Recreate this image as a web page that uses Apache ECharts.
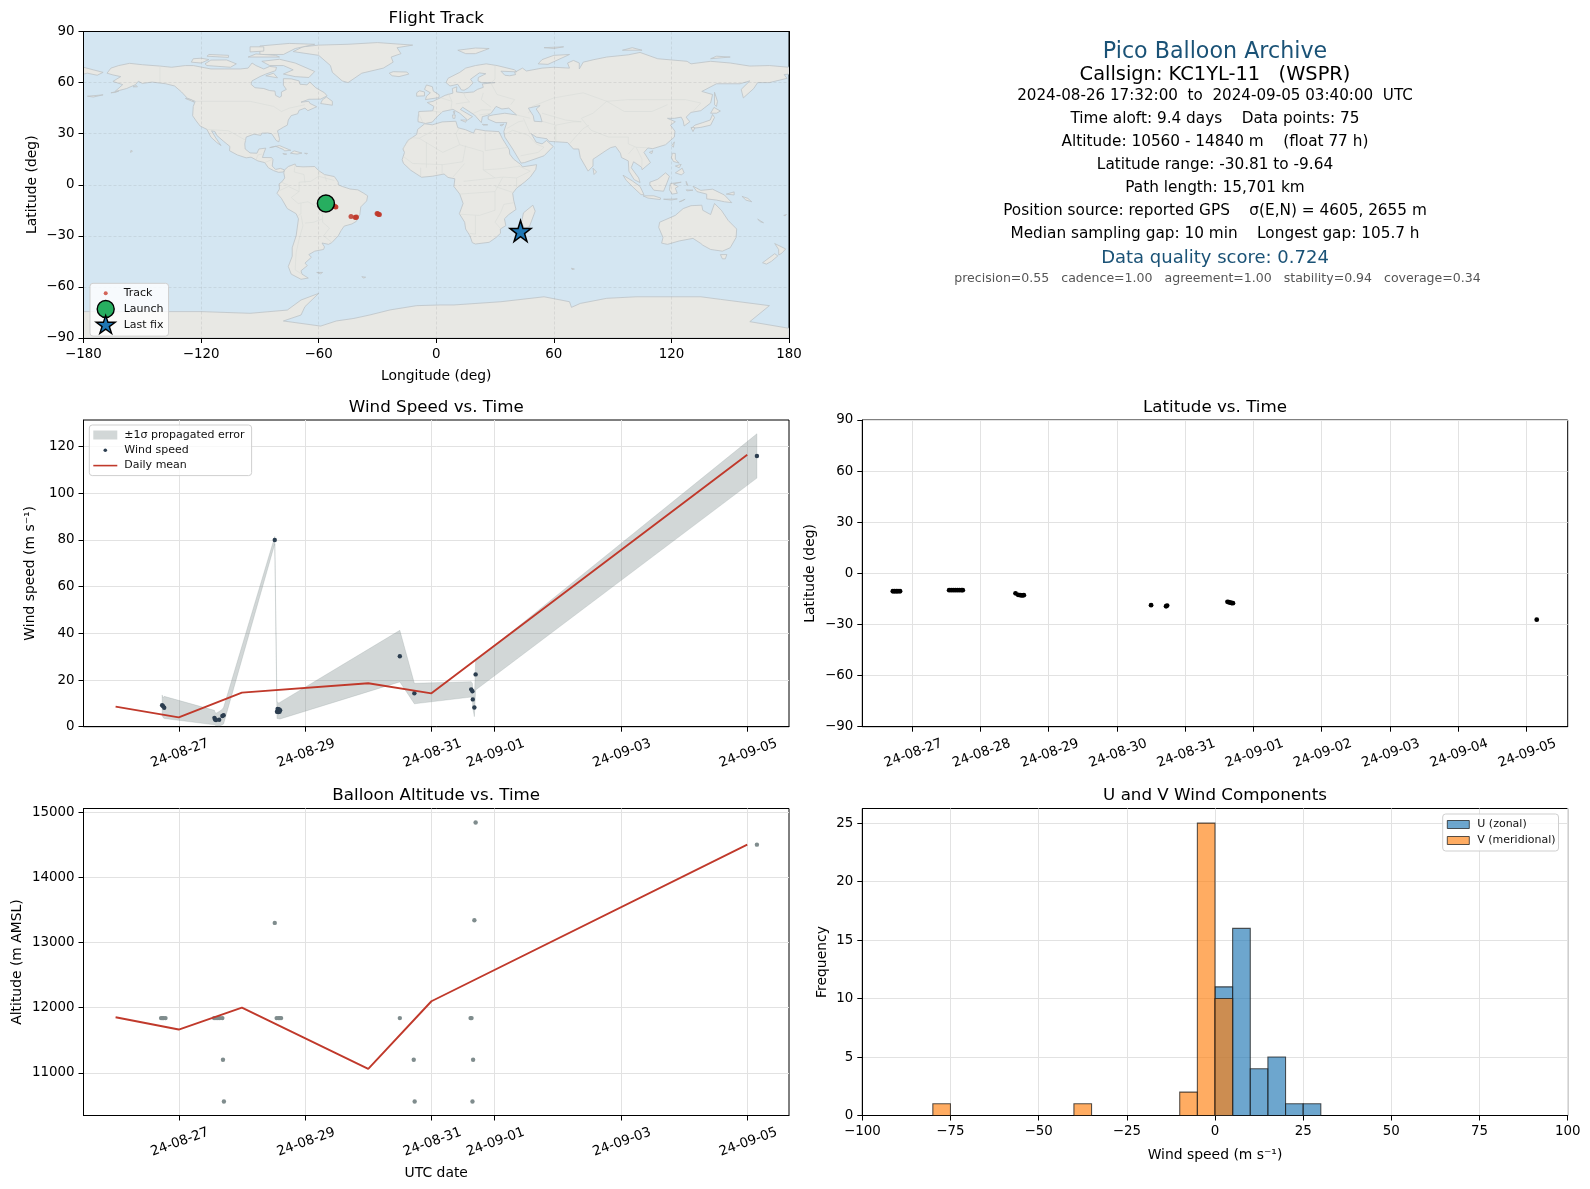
<!DOCTYPE html>
<html><head><meta charset="utf-8">
<style>html,body{margin:0;padding:0;background:#fff}#c{width:1590px;height:1189px}</style>
<script src="https://cdn.jsdelivr.net/npm/echarts@6/dist/echarts.min.js"></script>
</head><body><div id="c"></div>
<script>
// ---------- values (time = days since 2024-08-27 00:00 UTC) ----------
const trackLon = [-56.3,-55.9,-55.6,-54.6,-54.2,-53.8,-53.4,-52.8,-51.9,-51.5,-51.2,-43.5,-41.4,-41,-40.7,-30.2,-29.8,-29.4,-29,43];
const trackLat = [-10.5,-10.5,-10.4,-9.9,-9.9,-9.9,-9.9,-11.7,-12.7,-12.9,-13,-18.7,-19.1,-19.2,-19,-16.9,-17.1,-17.4,-17.5,-27.2];
const launchPoint = [-56.3,-11];
const lastFixPoint = [43,-27.2];

const latTime = [-0.285,-0.26,-0.235,-0.21,-0.18,0.54,0.57,0.6,0.63,0.66,0.69,0.72,0.74,1.513,1.55,1.58,1.6,1.62,1.635,3.5,3.72,3.735,4.62,4.64,4.66,4.68,4.7,9.153];
const latValue = [-10.5,-10.5,-10.5,-10.5,-10.5,-9.9,-9.9,-9.9,-9.9,-9.9,-9.9,-9.9,-9.9,-11.7,-12.6,-12.8,-12.9,-12.9,-12.8,-18.7,-19.3,-18.9,-16.7,-16.9,-17.2,-17.4,-17.5,-27.2];

const windTime = [-0.263,-0.247,-0.23,0.565,0.575,0.59,0.64,0.69,0.71,1.52,1.555,1.565,1.575,1.585,1.595,1.605,3.5,3.73,4.63,4.65,4.655,4.68,4.7,9.153];
const windSpeed = [9.2,8.8,8.1,3.8,3.1,2.9,3,4.6,4.9,80,6.4,7.6,6.3,7.5,6.4,7.1,30.2,14.3,16,15.2,11.7,8.2,22.4,116];
const windHigh = [13.6,12.4,13,7,6.2,5.8,6.5,7.5,8.3,81.5,10.5,10.5,10.3,10.2,10.3,10.5,41.3,18.6,19.3,18.5,15,12,28.2,125.5];
const windLow = [4.8,3.9,3.5,0.8,0.6,0.5,0.2,0.8,1.2,78.3,3.5,3.5,3.4,3.4,3.3,3.3,19.2,9.8,12.7,11.5,8,4.3,15.7,106.5];

const dailyTime = [-1,0,1,3,4,9];
const dailyWind = [8.6,4,14.6,18.6,14.3,116.5];
const dailyAlt = [11853,11664,12001,11061,12098,14500];

const altTime = [-0.28,-0.26,-0.24,-0.21,0.56,0.59,0.62,0.65,0.69,0.7,0.715,1.52,1.55,1.58,1.6,1.62,3.5,3.72,3.735,4.62,4.635,4.66,4.65,4.68,4.7,9.153];
const altValue = [11840,11840,11840,11840,11840,11840,11840,11840,11840,11200,10560,13300,11840,11840,11840,11840,11840,11200,10560,11840,11840,11200,10560,13340,14840,14500];

const histEdgesU = [[0,5],[5,10],[10,15],[15,20],[20,25],[25,30]];
const histCountU = [11,16,4,5,1,1];
const histEdgesV = [[-80,-75],[-40,-35],[-10,-5],[-5,0],[0,5]];
const histCountV = [1,1,2,25,10];

const dateTickDays = [0,1,2,3,4,5,6,7,8,9];
const dateTickLabels = ['24-08-27','24-08-28','24-08-29','24-08-30','24-08-31','24-09-01','24-09-02','24-09-03','24-09-04','24-09-05'];
const sparseTickDays = [0,2,4,5,7,9];
const windTicks = [0,20,40,60,80,100,120];
const altTicks = [11000,12000,13000,14000,15000];
const freqTicks = [0,5,10,15,20,25];

const infoLines = [
 'Pico Balloon Archive','Callsign: KC1YL-11   (WSPR)','2024-08-26 17:32:00  to  2024-09-05 03:40:00  UTC',
 'Time aloft: 9.4 days    Data points: 75','Altitude: 10560 - 14840 m    (float 77 h)','Latitude range: -30.81 to -9.64',
 'Path length: 15,701 km','Position source: reported GPS    σ(E,N) = 4605, 2655 m','Median sampling gap: 10 min    Longest gap: 105.7 h',
 'Data quality score: 0.724','precision=0.55   cadence=1.00   agreement=1.00   stability=0.94   coverage=0.34'];

// coastlines, [lon,lat]
const landNorthAmerica=[[-168,65.5],[-166,68.5],[-162,70],[-156.5,71.3],[-150,70.5],[-141,69.7],[-135,69],[-128,70],[-124,70],[-115,68],[-108,68],[-100,68],[-96,68.5],[-94,71.5],[-92,70],[-88,68],[-85,69.5],[-81.5,69],[-82,67],[-87,65],[-90,63.5],[-94,61],[-94.5,59],[-92.5,57],[-88,56.5],[-85,55.3],[-82.3,55],[-82,52.5],[-80,51.3],[-79,52],[-79,54.5],[-76.5,56],[-78,58.5],[-78,62.3],[-74,62.2],[-70,61],[-69.5,59],[-66,58.7],[-64.5,60.3],[-61.5,57],[-57,54],[-55.7,52.2],[-59,50.3],[-65,50.2],[-69,48.5],[-65,49],[-64.5,47.8],[-61,45.8],[-65.5,43.5],[-67,45],[-70,43.7],[-70.7,41.7],[-74,40.6],[-75.5,38],[-76,35],[-78,33.8],[-81,31.7],[-80,27],[-80.3,25.2],[-81.7,26],[-82.8,28],[-84,30],[-86,30.4],[-89,30.3],[-89.5,29],[-93,29.7],[-97,28],[-97.7,24],[-97.5,21],[-95,18.7],[-91.5,18.5],[-90.5,21],[-87,21.5],[-88,18.5],[-88.7,16],[-84,15.9],[-83.3,14.8],[-83.7,11],[-82,9],[-79.5,9.6],[-77.4,8.7],[-78,7.5],[-80.5,7.3],[-83,8.3],[-85.7,10],[-87.5,13],[-91,14],[-94.5,16.2],[-97,15.8],[-101.5,17.5],[-105.5,20],[-105.3,22.5],[-108.5,25.5],[-112,29],[-113,31.3],[-114.7,31.7],[-112.5,27.5],[-109.8,23],[-112,24.8],[-115,28],[-117,32.5],[-120.5,34.5],[-122.5,37.5],[-124.3,40.5],[-124,46],[-123,49],[-127,50.8],[-130,54.5],[-133.5,58],[-138,59.3],[-145,60.3],[-150,59.5],[-152,60.8],[-153.5,58.8],[-158,56.5],[-164,54.7],[-160,58.8],[-165,60.7],[-161,63.5],[-165,64.5]];
const landSouthAmerica=[[-77.4,8.7],[-75.5,10.7],[-72,12.2],[-71.5,10.8],[-68,10.5],[-62,10.7],[-60,8.3],[-57,6],[-52,4.8],[-50,1.5],[-50,0],[-48,-1],[-44,-2.5],[-40,-3],[-37,-5],[-35,-6.5],[-35.5,-9.5],[-38.5,-13],[-39,-17.5],[-40.8,-21.5],[-43,-23],[-47,-24.3],[-48.6,-27],[-50,-30],[-53.3,-34],[-55,-35],[-58.3,-34.2],[-57,-36.5],[-57.5,-38],[-62,-39],[-65,-41],[-63.7,-42.6],[-67,-46],[-65.8,-47.5],[-69,-50.5],[-68.5,-52.5],[-65.3,-54.8],[-69,-55.5],[-74,-52.5],[-75.5,-48],[-73.5,-42],[-73.5,-37],[-71.5,-30],[-70.3,-20],[-71.5,-17],[-76,-14],[-79,-8],[-81.3,-5],[-80,-2.5],[-80.2,0.5],[-78.8,1.7],[-77.3,4],[-77.8,7]];
const landAfrica=[[-5.9,35.8],[-2,35.2],[3,36.9],[10,37.3],[11,33.5],[15,32.3],[19,30.3],[20,32.7],[25,31.7],[32,31.2],[32.5,30],[33.8,27],[35.7,23.5],[37.3,20.5],[37.5,18],[39.5,15],[43,12],[44,10.5],[51.2,11.8],[50.8,9],[48,4.5],[45,1.5],[41,-2],[39,-5],[39.5,-9],[40.7,-14.5],[37,-17.5],[34.8,-20],[35.5,-24],[32.7,-26],[32.8,-28.5],[30.5,-31],[27,-33.8],[20,-34.8],[18.4,-34],[17.2,-30],[15,-26],[14.5,-22],[11.8,-17],[13.7,-11],[12,-5.5],[9,-1],[9.5,3.5],[6,4.3],[4,6.3],[-2,5],[-7.5,4.4],[-13,8.5],[-16.7,12.5],[-17.4,14.7],[-16.2,19],[-17,21],[-14.5,26],[-10,29.5],[-9.5,32.5]];
const landEurasia=[[-9.3,38.7],[-8.9,43],[-1.8,43.4],[-1.2,46],[-4.6,48.3],[-1.6,49],[2,51],[4.5,52.5],[8.5,53.8],[8.2,56.5],[10.5,57.5],[10.3,54.5],[14,54],[19,54.5],[21,56],[24,57.2],[23.5,59.2],[30,60],[23,60],[21.3,61],[21.5,63],[25.3,65.2],[22,65.7],[17.5,62],[18.8,59.8],[16.5,57],[14.2,55.5],[12.8,55.7],[11,59],[7,58],[5,60],[6,62.5],[12,66],[15,68.5],[20,70],[25.5,71],[31,70],[40,67.5],[41,66.3],[33,66.7],[35,64.3],[37.5,64],[40.5,64.7],[40,66],[44,68.5],[46,66.8],[54,68.5],[60,69],[68,68.5],[67,71.5],[70,73],[73,71.5],[73,68],[75,72],[80.5,73.5],[87,75],[98,76.3],[104,77.7],[113,74],[128,72.5],[130,71],[140,72.5],[150,71.5],[160,69.7],[170,70],[180,69],[180,65],[177.5,64.7],[179,62.5],[170,60],[164,60],[162,56.5],[156.7,51],[155.6,56],[160,61],[155,59.3],[143,59.3],[135.5,54.8],[141,53],[140,48],[135,43.5],[130,42.5],[127.5,39.7],[129.4,37],[126.5,34.5],[126,37.5],[125,39.7],[121.5,39],[118,39],[122,37],[119.5,35],[121.8,31.5],[121.5,28],[117,23.5],[110.5,21.2],[108,21.6],[106,19],[109.3,13],[105,8.8],[104.8,10.3],[100.7,13.5],[99.5,10],[103.3,4],[104,1.3],[101,3],[98.3,8],[98,14],[94.5,16],[94,18.5],[91.5,22.5],[89,21.8],[86.5,20],[82,16.5],[80,15],[80,11],[77.5,8],[73.5,16],[72.7,21],[70,21],[67,24.8],[57.5,25.5],[56.5,27],[51,28],[48.5,30],[51,25],[54,24],[56.3,26],[59.7,22.5],[55,17],[45,13],[43.3,12.7],[39,21],[35,28],[34.5,31.3],[36,36.5],[30.5,36.5],[26.5,38.5],[26.5,40.3],[29,41],[35,42],[41,41],[37,45],[33.5,44.5],[30.5,46],[28,42],[26,40.7],[23.5,40],[23,36.5],[19.5,41],[13.5,45.5],[12.3,44.2],[18.5,40],[16,38],[12,42],[8.5,44.3],[3.3,43],[0,39.5],[-2,36.8],[-5.5,36],[-9.3,37]];
const landChukotka=[[-180,69],[-175,67.5],[-170,66],[-173,64.3],[-178,65.5],[-180,65]];
const landAustralia=[[114,-22],[122,-18],[126,-14],[130,-12.3],[135.5,-12],[136,-15],[140,-17.5],[142,-11],[145.5,-15],[149,-21],[153.3,-26],[153,-31],[150,-37],[146,-39],[140,-38],[136,-35.5],[135,-34.5],[131,-31.5],[124,-33],[118,-35],[115,-34.3],[115.7,-31],[113.5,-25]];
const landAntarctica=[[-180,-74.5],[-120,-74.5],[-95,-75.5],[-76,-73.6],[-69,-67.7],[-60,-63.8],[-67,-71.6],[-69,-76.5],[-78,-80],[-59,-83],[-51,-80],[-42,-78.5],[-34,-76.5],[-23.5,-73.5],[-10,-71],[2,-70.6],[9,-70.6],[33,-68.7],[55,-65.8],[68,-68.7],[69,-72],[73.5,-69.7],[87,-66.7],[102,-65.8],[135,-65.8],[145,-67.3],[170,-71],[160,-80.4],[180,-84.3],[180,-90],[-180,-90]];
const landGreenland=[[-73,78.2],[-68,81],[-60,82],[-45,82.5],[-30,83.5],[-12,82],[-20,80.5],[-18,77],[-23,75],[-22,72],[-27,68.5],[-38,65.5],[-45,60],[-48,61],[-53,66],[-54,70],[-60,76]];
const landIslands=[
 [[-80,73.7],[-72,71.5],[-67,69],[-62,66.5],[-65,63],[-72,63.5],[-78,65],[-73,67.5],[-78,70],[-85,70],[-89,72.5]],
 [[-117,70],[-105,69],[-102,71],[-107,73.3],[-115,73.2],[-118,71]],[[-125,72],[-120,71.5],[-116,73.5],[-120,74.3],[-124,74]],
 [[-90,76.5],[-78,76.5],[-72,80],[-62,82.5],[-75,83],[-90,81.5]],[[-96,75],[-80,75],[-82,76],[-92,76.8]],[[-117,75.5],[-106,74.8],[-106,76],[-116,76.5]],
 [[-95,78],[-88,78.5],[-88,81],[-95,81]],[[-59,47.7],[-53,46.7],[-53,49],[-56,51.5],[-58,50]],[[-87,64],[-81,62.8],[-83,65.5]],[[-128,50.7],[-123.5,48.5],[-125,50]],
 [[-85,21.8],[-80,23],[-74.2,20.2],[-77.5,19.9],[-78,20.7],[-82,22.6]],[[-74.4,18.5],[-72.5,19.9],[-68.5,18.6],[-71,18]],[[-78.3,18.3],[-76.3,18],[-77.3,17.8]],[[-67.2,18.5],[-65.7,18.4],[-66,18]],
 [[-156,19],[-155,19.7],[-155.8,20.2]],[[-154.7,57.5],[-152.5,57.5],[-153,58.3]],[[-24,65.5],[-22,66.4],[-15,66.2],[-14,65],[-19,63.5],[-22.5,64]],
 [[-5.5,50],[1.4,51.2],[1.5,52.8],[-1.5,55],[-2,57.6],[-5,58.6],[-6,56],[-3,54],[-5,52]],[[-10,52],[-6,52.2],[-6,54.5],[-8.5,55.2],[-10,54]],
 [[11,79],[20,80.3],[27,80],[20,77],[15,77]],[[52,71],[57,70.7],[68,76.5],[60,76],[54,73.5]],[[142,54.3],[143.5,49],[143,46],[142,47],[142,52]],
 [[130,33],[135,33.7],[140,35],[142,39.5],[141,41.3],[139.8,38],[136,36.5],[132,35]],[[140,42],[141.7,45.4],[145,43.3],[143,42]],[[131,31.2],[132,33.5],[130,33.6]],
 [[120.2,23],[121.5,25.2],[121,22]],[[108.7,19],[110.5,20],[110,18.3]],[[120,16],[120.5,18.5],[122,18.4],[122,15],[124,12.7],[121,13.7]],[[122,7],[125.5,9.7],[126.5,7],[125,5.8]],[[122,11],[125,12],[124,10]],
 [[95.3,5.6],[100,2.3],[104,-1],[106,-5.8],[104.5,-5.8],[100.5,-1.5],[97,2.5]],[[105.5,-6.5],[111,-6.5],[114.5,-7.8],[114.3,-8.7],[108,-7.8]],[[109,1.5],[113,3.2],[117,7],[119,5],[117.7,1],[116,-3.8],[111,-3.2],[109,0]],
 [[119.5,0.7],[125,1.5],[121,0.5],[123.5,-1],[122,-2],[123,-5],[120.3,-5.5],[119,-3]],[[131,-0.8],[135,-3.3],[141,-2.6],[147,-6],[150.8,-10.5],[147,-10],[143,-9],[138,-8.3],[138,-5.5],[133,-4]],
 [[148,-5.5],[152,-4.2],[152,-6]],[[116,-8.5],[123,-8.3],[120,-9]],[[124,-10],[127,-8.5],[125,-9.8]],[[127.5,-3],[131,-3.2],[128,-3.6]],[[127.5,2],[128.5,-0.5],[127.7,0]],[[156,-6.8],[159,-8],[161,-10],[158,-9]],
 [[164,-20.2],[167,-22.3],[165.5,-21.8]],[[177.3,-18],[178.7,-17.5],[178,-18.2]],[[145,-41],[148.3,-41],[147.5,-43.5],[146,-43.5]],[[172.7,-34.5],[178.3,-37.7],[176.5,-40],[174.8,-41.3],[174.7,-38]],[[172.7,-40.5],[174.3,-41.8],[171,-45],[168.5,-46.6],[166.5,-45.8]],
 [[80,9.7],[81.8,7.5],[80.5,6]],[[49.3,-12],[50.5,-15.5],[47.5,-24.7],[45,-25.5],[43.5,-22],[44.5,-16.5]],[[69,-49],[70.5,-49.5],[69.3,-49.8]],[[-61,-51.5],[-58,-51.5],[-59,-52.3]],[[-38,-54],[-36,-54.3],[-37,-54.8]],
 [[15.5,38],[12.5,38],[15,36.7]],[[8.3,41],[9.7,41],[9.5,39],[8.5,39]],[[8.7,43],[9.5,43],[9.2,41.5]],[[23.5,35.5],[26.3,35.2],[24,35]],[[32.5,35],[34.5,35.6],[33.5,34.6]],[[-178,52],[-170,52.8],[-175,51.5]],[[-166,54],[-162,55],[-164,54.2]],[[55,80.5],[65,81],[60,80]],[[140,74],[150,75],[143,75.5]],[[95,79],[105,79],[100,80.5]]
];
const seaCaspian=[[47,45],[53,46.5],[51,44.5],[53,41],[54,37],[50,37.3],[49.5,40.5]];
const countryBorders=[
 [[-123,49],[-95,49],[-83,46],[-79,43],[-75,45],[-67,47]],[[-141,69.7],[-141,60]],[[-117,32.5],[-106,31.7],[-97,26]],[[-92,14.5],[-91,17.5],[-89,18]],[[-87.5,13],[-83.5,15]],
 [[-72,12],[-72.5,7.5],[-67.5,6],[-67,1.2]],[[-52,2.5],[-60,5],[-64,2],[-70,1.5],[-70,-4],[-74,-7.5],[-70.5,-11],[-65.5,-10],[-60,-13.5],[-58,-17.5],[-58,-22],[-54.5,-25.5],[-57.5,-30],[-53.4,-33.7]],[[-70.3,-18],[-69,-17],[-69,-11]],[[-69,-18],[-68,-24],[-70,-32],[-71.5,-40],[-72,-50],[-68.6,-52.5]],[[-67,-22.5],[-62.5,-22],[-58,-20]],[[-80,-3.5],[-75.5,-1],[-70,-4]],[[-78.8,1.4],[-75.5,-0.2]],[[-60,8.5],[-60,5]],[[-57,6],[-56,2]],
 [[-8.7,27.3],[-13,27.7],[-17,21.3]],[[-1.2,32],[-8.7,27.3],[3.3,19],[12,23.5],[10,30],[11.5,33]],[[25,31.6],[25,20],[36.9,22]],[[12,23.5],[24,19.5],[24,8.7],[34,9.5],[42.8,11]],[[15,23],[13.5,13.5],[3.3,11.8],[-12,12.5],[-16.7,16.5]],[[8.5,4.5],[14.5,12.5]],[[12,-5.5],[30,-4],[30,-15],[22,-18],[12,-17.3]],[[30,-4],[34,4.5],[41,4],[41,-1.5]],[[39,-4.5],[30,-1]],[[39.7,-10.5],[34.5,-11.5],[33,-16],[30,-22],[33,-26]],[[20,-18],[20,-29],[17,-28.6]],[[42,11],[48,8],[41,4]],[[-5,25],[-5,10]],[[3,6],[3,12]],[[-8,5],[-8,10]],[[24,8.7],[30,4],[34,4.5]],[[14,2],[30,4]],
 [[-1.8,43.3],[3,42.4]],[[-9,42],[-7,37]],[[2.5,51],[8,49],[7.5,44]],[[8,49],[6,54]],[[14,54],[15,51],[17,48.7],[10,47.5]],[[24,54],[23,50],[28,45.5]],[[28,59.5],[31,53],[40,50],[38,47]],[[30,70],[30,62],[28,60]],[[41,41],[48,39]],[[47,42],[49,46],[60,51],[75,54],[87,49],[98,50],[108,50],[118,50],[127,50],[135,48],[131,43]],[[87,49],[96,43],[110,43],[118,47]],[[74,39],[80,42],[87,49]],[[74,39],[79,32],[88,28],[98,28],[98,24],[102,22],[108,21.7]],[[68,24],[71,28],[75,33],[78,35]],[[44.5,39],[46,35],[48,30]],[[61,25],[61,35],[54,37.3]],[[61,35],[70,37],[74,37]],[[35,29.5],[39,32],[47,29],[51,24],[55,22],[52,19],[43,17]],[[36,33],[42,37],[44.5,37.5]],[[102,22],[105,15],[105,11]],[[98,18],[101,22]],[[54,42],[66,38],[74,37]],[[22,41],[28,42]],[[19,42],[23,44],[28,44]]
];
const landPolygons=[landNorthAmerica,landSouthAmerica,landAfrica,landEurasia,landChukotka,landAustralia,landAntarctica,landGreenland,...landIslands];

// ---------- styling ----------
const FONT='DejaVu Sans';
const TXT='#000';
const RED='#c0392b', NAVY='#2c3e50', SLATE='#7f8c8d', GREEN='#27ae60', BLUE='#1f77b4', DEEP='#1a5276';
const BAND='rgba(127,140,141,0.35)', SEA='#d4e6f2';
const STAR='path://M50 0L61.2 34.5L97.6 34.5L68.2 55.9L79.4 90.5L50 69.1L20.6 90.5L31.8 55.9L2.4 34.5L38.8 34.5Z';
const zip=(a,b)=>a.map((v,i)=>[v,b[i]]);
const G={map:{left:83.5,top:31.5,width:705.5,height:306.5},wind:{left:83.5,top:420,width:705.5,height:306.7},lat:{left:862.3,top:420,width:705.4,height:306.7},alt:{left:83.5,top:808.5,width:705.5,height:307},hist:{left:862.3,top:808.5,width:705.4,height:307}};
const T0=-1.508,T1=9.661,L0=-0.733,L1=9.607;
const gridLine={show:true,lineStyle:{color:'#e2e2e2',width:1}};
const mapLine={show:true,lineStyle:{color:'rgba(130,130,130,0.2)',width:0.8,type:[3,2]}};
const base={axisLine:{show:true,onZero:false,lineStyle:{color:'#000',width:1}},axisTick:{show:true,length:5,lineStyle:{color:'#000',width:1}},
  nameLocation:'middle',nameTextStyle:{fontFamily:FONT,fontSize:13.9,color:TXT}};
const lab={fontFamily:FONT,fontSize:13.4,color:TXT};
const signed=v=>(v<0?'\u2212'+(-v):''+v);
const dateFmt=v=>dateTickLabels[dateTickDays.indexOf(Math.round(v))];
function timeAxis(gridIndex,min,max,ticks,extra){return Object.assign({},base,{type:'value',gridIndex,min,max,splitLine:gridLine,
  axisTick:Object.assign({},base.axisTick,{customValues:ticks}),
  axisLabel:Object.assign({},lab,{customValues:ticks,rotate:20,align:'center',verticalAlign:'top',margin:18,padding:[2,4,0,0],formatter:dateFmt})},extra||{});}
function numY(gridIndex,min,max,ticks,name,gap,fmt){return Object.assign({},base,{type:'value',gridIndex,min,max,name,nameGap:gap,splitLine:gridLine,
  axisTick:Object.assign({},base.axisTick,{customValues:ticks}),
  axisLabel:Object.assign({},lab,{customValues:ticks,margin:9,formatter:fmt||(v=>String(v))})});}
function barSeries(name,edges,counts,fill,xi,yi){return {name,type:'custom',xAxisIndex:xi,yAxisIndex:yi,z:3,silent:true,clip:true,
  data:edges.map((e,i)=>[e[0],e[1],counts[i]]),encode:{x:[0,1],y:2},
  renderItem:(p,api)=>{const a=api.coord([api.value(0),api.value(2)]),b=api.coord([api.value(1),0]);
    return {type:'rect',shape:{x:a[0],y:a[1],width:b[0]-a[0],height:b[1]-a[1]},style:{fill,stroke:'rgba(30,30,30,0.75)',lineWidth:1.1}};}};}
const legendText={fontFamily:FONT,fontSize:11,color:'#111'};
const legendBox={backgroundColor:'rgba(255,255,255,0.8)',borderColor:'#cfcfcf',borderWidth:1,borderRadius:3,orient:'vertical',selectedMode:false,align:'left',textStyle:legendText};

const option={animation:false,backgroundColor:'#fff',textStyle:{fontFamily:FONT},
 title:[['Flight Track',G.map],['Wind Speed vs. Time',G.wind],['Latitude vs. Time',G.lat],['Balloon Altitude vs. Time',G.alt],['U and V Wind Components',G.hist]].map(([text,g])=>({text,left:g.left+g.width/2,top:g.top-21,textAlign:'center',padding:0,textStyle:{fontFamily:FONT,fontSize:16.7,fontWeight:'normal',color:TXT}})),
 grid:[G.map,G.wind,G.lat,G.alt,G.hist].map((g,i)=>Object.assign({},g,{show:true,containLabel:false,borderColor:'#000',borderWidth:1,backgroundColor:i===0?SEA:'#fff'})),
 xAxis:[
  Object.assign({},base,{type:'value',gridIndex:0,min:-180,max:180,interval:60,z:3,name:'Longitude (deg)',nameGap:31,splitLine:mapLine,axisLabel:Object.assign({},lab,{margin:10,formatter:signed})}),
  timeAxis(1,T0,T1,sparseTickDays),
  timeAxis(2,L0,L1,dateTickDays),
  timeAxis(3,T0,T1,sparseTickDays,{name:'UTC date',nameGap:51}),
  Object.assign({},base,{type:'value',gridIndex:4,min:-100,max:100,interval:25,name:'Wind speed (m s\u207B\u00B9)',nameGap:33,splitLine:gridLine,axisLabel:Object.assign({},lab,{margin:10,formatter:signed})}),
  {type:'value',gridIndex:0,min:-180,max:180,position:'top',z:4,axisLine:{show:true,onZero:false,lineStyle:{color:'#000',width:1}},axisTick:{show:false},axisLabel:{show:false},splitLine:{show:false}}
 ],
 yAxis:[
  Object.assign({},base,{type:'value',gridIndex:0,min:-90,max:90,interval:30,z:3,name:'Latitude (deg)',nameGap:44,splitLine:mapLine,axisLabel:Object.assign({},lab,{margin:9,formatter:signed})}),
  numY(1,0,131.4,windTicks,'Wind speed (m s\u207B\u00B9)',46),
  Object.assign({},base,{type:'value',gridIndex:2,min:-90,max:90,interval:30,name:'Latitude (deg)',nameGap:45,splitLine:gridLine,axisLabel:Object.assign({},lab,{margin:9,formatter:signed})}),
  numY(3,10346,15054,altTicks,'Altitude (m AMSL)',59),
  numY(4,0,26.25,freqTicks,'Frequency',33),
  {type:'value',gridIndex:0,min:-90,max:90,position:'right',z:4,axisLine:{show:true,onZero:false,lineStyle:{color:'#000',width:1}},axisTick:{show:false},axisLabel:{show:false},splitLine:{show:false}}
 ],
 legend:[
  Object.assign({},legendBox,{left:90,top:283.3,padding:[0,5,0,2],itemWidth:26,itemHeight:20,itemGap:-5,data:[
   {name:'Track',icon:'path://M0 0M26 20M13 8A2 2 0 1 1 13 12A2 2 0 1 1 13 8Z',itemStyle:{color:'#cc4a3c',borderWidth:0}},
   {name:'Launch',icon:'path://M0 0M26 20M13 1.5A8.5 8.5 0 1 1 13 18.5A8.5 8.5 0 1 1 13 1.5Z',itemStyle:{color:GREEN,borderColor:'#000',borderWidth:1.4}},
   {name:'Last fix',icon:'path://M0 0M26 20M13 0L15.24 6.9L22.52 6.9L16.64 11.18L18.88 18.1L13 13.82L7.12 18.1L9.36 11.18L3.48 6.9L10.76 6.9Z',itemStyle:{color:BLUE,borderColor:'#000',borderWidth:1.4}}]}),
  Object.assign({},legendBox,{left:89.3,top:425,padding:[3,7,3,4],itemWidth:26,itemHeight:14,itemGap:1.3,data:[
   {name:'\u00B11\u03C3 propagated error',icon:'path://M0 0M26 14M0 2.5H24V11.5H0Z',itemStyle:{color:BAND,borderWidth:0}},
   {name:'Wind speed',icon:'path://M0 0M26 14M12 5.2A1.8 1.8 0 1 1 12 8.8A1.8 1.8 0 1 1 12 5.2Z',itemStyle:{color:NAVY,borderWidth:0}},
   {name:'Daily mean',icon:'path://M0 0M26 14M0 6.2H24V7.8H0Z',itemStyle:{color:RED,borderWidth:0}}]}),
  Object.assign({},legendBox,{left:1442.7,top:814,padding:[3,3,3,3.6],itemWidth:25.5,itemHeight:14,itemGap:1,data:[
   {name:'U (zonal)',icon:'path://M0 0M25.5 14M0.5 3H22.5V11H0.5Z',itemStyle:{color:'rgba(31,119,180,0.65)',borderColor:'rgba(30,30,30,0.75)',borderWidth:1}},
   {name:'V (meridional)',icon:'path://M0 0M25.5 14M0.5 3H22.5V11H0.5Z',itemStyle:{color:'rgba(255,127,14,0.65)',borderColor:'rgba(30,30,30,0.75)',borderWidth:1}}]})
 ],
 graphic:{elements:infoLines.map((text,i)=>{
   const y=[52,75,96,119,142,165,188,211,234,258.5,279][i];
   const size=i===0?22.2:i===1?19.4:i===9?18:i===10?12.55:i===2?15.15:15.3;
   const color=(i===0||i===9)?DEEP:i===10?'#555':'#000';
   return {type:'text',x:i===10?1217.5:1215,y,silent:true,style:{text,x:0,y:0,align:'center',verticalAlign:'middle',fill:color,font:size+'px "DejaVu Sans"'}};})},
 series:[
  {type:'custom',name:'land',xAxisIndex:0,yAxisIndex:0,z:2,silent:true,clip:true,data:[[0,0]],encode:{x:-1,y:-1},
   renderItem:(p,api)=>({type:'group',children:landPolygons.map(poly=>({type:'polygon',shape:{points:poly.map(c=>api.coord(c))},style:{fill:'#e8e8e4',stroke:'#bcc3c6',lineWidth:0.8}}))
     .concat(countryBorders.map(line=>({type:'polyline',shape:{points:line.map(c=>api.coord(c))},style:{fill:'none',stroke:'#d9dbd9',lineWidth:0.6}})))
     .concat([{type:'polygon',shape:{points:seaCaspian.map(c=>api.coord(c))},style:{fill:SEA,stroke:'#bcc3c6',lineWidth:0.8}}])})},
  {type:'scatter',name:'Track',xAxisIndex:0,yAxisIndex:0,z:6,symbolSize:5,itemStyle:{color:RED,opacity:0.85},data:zip(trackLon,trackLat),silent:true},
  {type:'scatter',name:'Launch',xAxisIndex:0,yAxisIndex:0,z:7,symbolSize:17,itemStyle:{color:GREEN,borderColor:'#000',borderWidth:1.5,opacity:1},data:[launchPoint],silent:true},
  {type:'scatter',name:'Last fix',xAxisIndex:0,yAxisIndex:0,z:7,symbol:STAR,symbolSize:21,itemStyle:{color:BLUE,borderColor:'#000',borderWidth:1.5,opacity:1},data:[lastFixPoint],silent:true},

  {type:'custom',name:'\u00B11\u03C3 propagated error',xAxisIndex:1,yAxisIndex:1,z:2,silent:true,clip:true,data:[[0,0]],encode:{x:-1,y:-1},
   renderItem:(p,api)=>{const up=windTime.map((t,i)=>api.coord([t,windHigh[i]])),dn=windTime.map((t,i)=>api.coord([t,windLow[i]])).reverse();
    return {type:'polygon',shape:{points:up.concat(dn)},style:{fill:BAND,stroke:'rgba(127,140,141,0.2)',lineWidth:1}};}},
  {type:'scatter',name:'Wind speed',xAxisIndex:1,yAxisIndex:1,z:5,symbolSize:4.4,itemStyle:{color:NAVY,opacity:1},data:zip(windTime,windSpeed),silent:true},
  {type:'line',name:'Daily mean',xAxisIndex:1,yAxisIndex:1,z:6,showSymbol:false,symbol:'none',lineStyle:{color:RED,width:1.9},itemStyle:{color:RED},data:zip(dailyTime,dailyWind),silent:true},

  {type:'scatter',name:'Latitude',xAxisIndex:2,yAxisIndex:2,z:5,symbolSize:4.8,itemStyle:{color:'#000',opacity:1},data:zip(latTime,latValue),silent:true},

  {type:'scatter',name:'Altitude',xAxisIndex:3,yAxisIndex:3,z:5,symbolSize:4.4,itemStyle:{color:SLATE,opacity:1},data:zip(altTime,altValue),silent:true},
  {type:'line',name:'Altitude daily mean',xAxisIndex:3,yAxisIndex:3,z:6,showSymbol:false,symbol:'none',lineStyle:{color:RED,width:1.9},data:zip(dailyTime,dailyAlt),silent:true},

  barSeries('U (zonal)',histEdgesU,histCountU,'rgba(31,119,180,0.65)',4,4),
  barSeries('V (meridional)',histEdgesV,histCountV,'rgba(255,127,14,0.65)',4,4)
 ]};
echarts.init(document.getElementById('c'),null,{renderer:'canvas'}).setOption(option);
</script></body></html>
